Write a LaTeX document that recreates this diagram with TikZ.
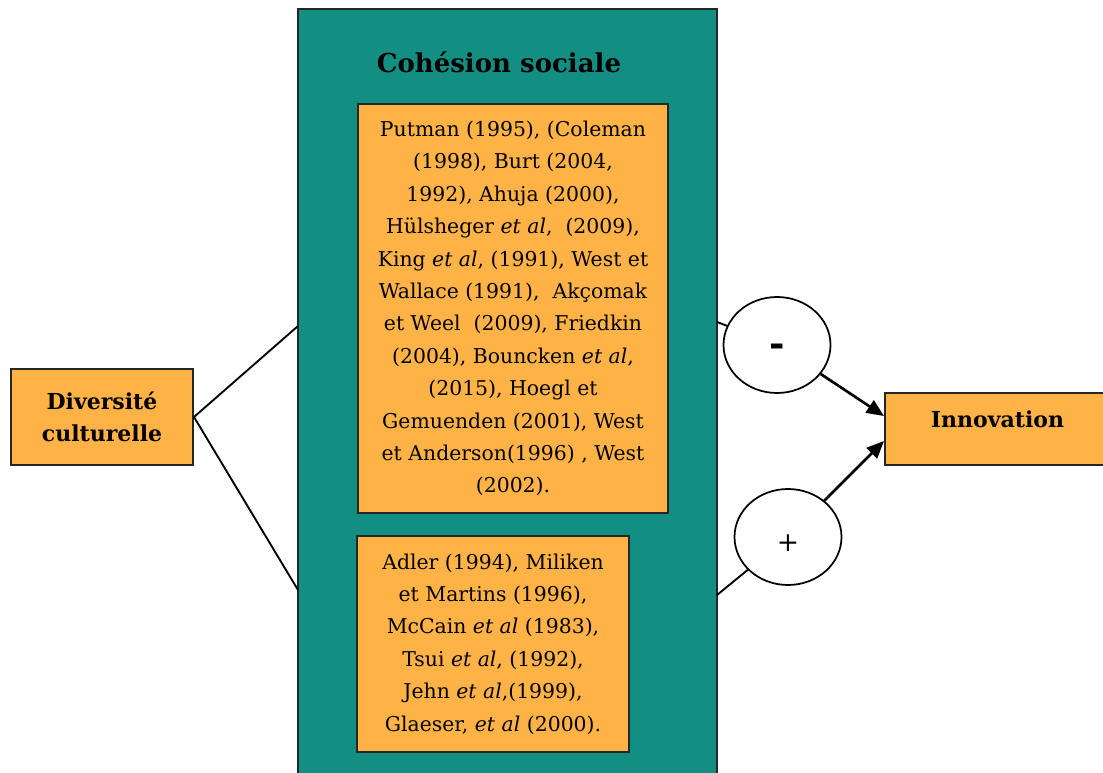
\documentclass[tikz,border=0pt]{standalone}
\usepackage{fontspec}
\setmainfont{DejaVu Serif}
\usetikzlibrary{arrows.meta,shapes.geometric,positioning}
\definecolor{tealbg}{RGB}{19,142,131}
\definecolor{orangebox}{RGB}{255,179,71}

\begin{document}
\begin{tikzpicture}[x=0.75pt,y=-0.75pt,
    refbox/.style={draw=black!85,fill=orangebox,line width=1.5pt,align=center,inner sep=0pt,
      font=\fontsize{15.3}{24.3}\selectfont},
    headbox/.style={refbox,font=\bfseries\fontsize{16.5}{24}\selectfont},
    signnode/.style={draw=black,fill=white,ellipse,line width=1.3pt,inner sep=0pt,
      minimum width=80.25pt,minimum height=72pt},
    link/.style={line width=1.4pt},
    effect/.style={line width=2pt,-{Triangle[length=13pt,width=11pt]}}]
                \useasboundingbox (0,0) rectangle (1103,773);
                \clip (0,0) rectangle (1103,773);
                \node[draw=black!85,fill=tealbg,line width=1.5pt,minimum width=314.25pt,minimum height=593.25pt] (cohesion) at (507.5,404.5) {};
                \node[font=\bfseries\fontsize{19.5}{22}\selectfont] (title) at (499,62) {Cohésion sociale};
                \node[refbox,minimum width=232.5pt,minimum height=306.75pt] (refs) at (513,308.5) {Putman (1995), (Coleman\\
                  (1998), Burt (2004,\\
                  1992), Ahuja (2000),\\
                  Hülsheger \textit{et al}, ~(2009),\\
                  King \textit{et al}, (1991), West et\\
                  Wallace (1991), ~Akçomak\\
                  et Weel ~(2009), Friedkin\\
                  (2004), Bouncken \textit{et al},\\
                  (2015), Hoegl et\\
                  Gemuenden (2001), West\\
                  et Anderson(1996) , West\\
                  (2002).};
                \node[refbox,minimum width=204pt,minimum height=162pt] (refsdiv) at (493,644) {Adler (1994), Miliken\\
                  et Martins (1996),\\
                  McCain \textit{et al} (1983),\\
                  Tsui \textit{et al}, (1992),\\
                  Jehn \textit{et al},(1999),\\
                  Glaeser, \textit{et al} (2000).};
                \node[headbox,minimum width=136.5pt,minimum height=72pt] (diversite) at (102,417) {Diversité\\culturelle};
                \node[headbox,minimum width=168.75pt,minimum height=54pt,text depth=15pt] (innov) at (997.5,429) {Innovation};
                \node[signnode,font=\bfseries\fontsize{28}{28}\selectfont] (minus) at (777,345) {\smash{\raisebox{-9pt}{-}}};
                \node[signnode,font=\fontsize{20}{20}\selectfont] (plus) at (788,537) {\smash{\raisebox{-11pt}{+}}};
                \coordinate (upin) at (298,326);
                \coordinate (lowin) at (298,590);
                \coordinate (upout) at (717,322);
                \coordinate (lowout) at (717,595);
                \draw[link] (diversite.east) -- (upin);
                \draw[link] (diversite.east) -- (lowin);
                \draw[link] (upout) -- (minus);
                \draw[link] (lowout) -- (plus);
                \draw[effect] (minus) -- ([yshift=9.75pt]innov.west);
                \draw[effect] (plus) -- ([yshift=-9pt]innov.west);
            \end{tikzpicture}
\end{document}
